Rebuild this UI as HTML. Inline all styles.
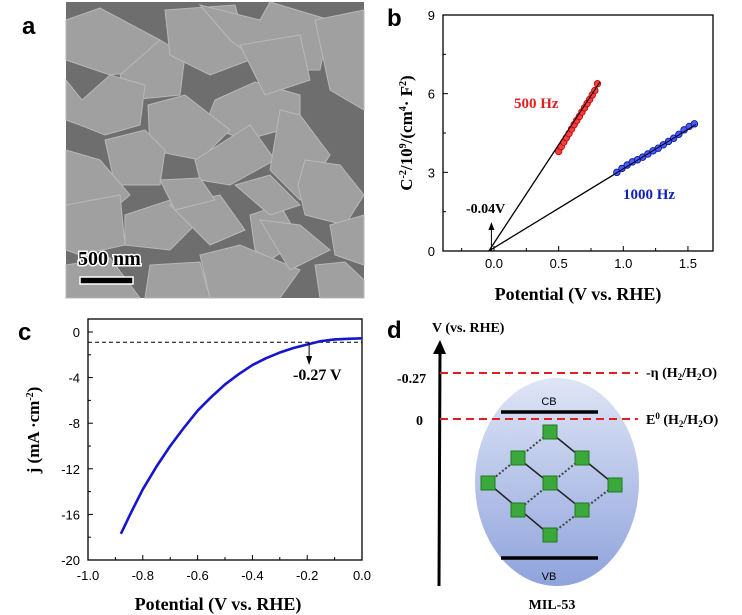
<!DOCTYPE html>
<html><head><meta charset="utf-8"><style>
html,body{margin:0;padding:0;background:#fff;}
svg{display:block;font-family:"Liberation Serif",serif;}
.sans{font-family:"Liberation Sans",sans-serif;}
</style></head><body>
<svg id="fig" width="742" height="615" viewBox="0 0 742 615" xmlns="http://www.w3.org/2000/svg">
<!-- Panel a -->
<g>
<text x="22" y="34" class="sans" font-size="24" font-weight="bold">a</text>
<rect x="66" y="2" width="298" height="296" fill="#6e6e6e"/>
<g fill="#a0a0a0" stroke="#b8b8b8" stroke-width="1">
<polygon points="66,20 100,8 160,40 150,70 110,75 66,60"/>
<polygon points="160,40 185,55 180,95 130,100 120,75"/>
<polygon points="165,10 235,5 250,60 210,75 170,55"/>
<polygon points="200,5 260,20 270,2 330,20 320,70 270,70 230,40"/>
<polygon points="315,20 364,10 364,110 330,90"/>
<polygon points="66,80 82,100 110,75 145,85 140,125 105,135 80,125 66,120"/>
<polygon points="215,100 255,82 300,95 300,125 245,140 205,125"/>
<polygon points="148,105 185,95 230,130 200,160 150,150"/>
<polygon points="195,160 250,125 275,160 230,185 200,180"/>
<polygon points="105,140 145,130 165,150 160,185 115,185"/>
<polygon points="280,110 300,115 330,155 300,200 270,170"/>
<polygon points="305,160 340,165 364,195 345,225 305,215 298,185"/>
<polygon points="66,150 100,160 130,195 100,220 66,215"/>
<polygon points="66,205 120,195 125,245 80,255 66,250"/>
<polygon points="125,215 170,200 200,220 170,250 125,245"/>
<polygon points="170,205 220,195 245,230 210,245"/>
<polygon points="250,215 280,205 300,240 270,260 255,250"/>
<polygon points="200,255 240,245 300,270 280,298 210,298"/>
<polygon points="150,265 200,262 210,298 145,298"/>
<polygon points="315,265 345,262 364,280 364,298 320,298"/>
<polygon points="260,220 300,225 330,250 290,270"/>
<polygon points="330,225 364,215 364,265 335,255"/>
<polygon points="66,265 110,258 140,298 66,298"/>
<polygon points="235,185 270,175 300,205 270,215"/>
<polygon points="160,180 200,178 215,200 175,210"/>
<polygon points="240,45 300,35 310,80 265,95"/>
</g>
<text x="78" y="265" font-size="20" font-weight="bold" fill="#000" stroke="#fff" stroke-width="3" paint-order="stroke">500 nm</text>
<rect x="80" y="277" width="53" height="7" fill="#000" stroke="#fff" stroke-width="1.5"/>
</g>

<!-- Panel b -->
<g id="panelB">
<text x="387" y="26" class="sans" font-size="24" font-weight="bold">b</text>
</g>
<!-- Panel c -->
<g id="panelC">
<text x="18" y="340" class="sans" font-size="24" font-weight="bold">c</text>
</g>
<!-- Panel d -->
<g>
<defs>
<linearGradient id="eg" x1="0" y1="0" x2="0" y2="1"><stop offset="0" stop-color="#dfe5f6"/><stop offset="1" stop-color="#8fa3dc"/></linearGradient>
</defs>
<text x="387" y="338" class="sans" font-size="24" font-weight="bold">d</text>
<text x="432" y="332" font-size="14" font-weight="bold">V (vs. RHE)</text>
<line x1="439" y1="586" x2="440" y2="348" stroke="#000" stroke-width="3"/>
<polygon points="440,340 433,354 446,354" fill="#000"/>
<ellipse cx="557" cy="482" rx="82" ry="104" fill="url(#eg)"/>
<line x1="440" y1="373" x2="638" y2="373" stroke="#e02020" stroke-width="2" stroke-dasharray="8,5"/>
<line x1="440" y1="419" x2="638" y2="419" stroke="#e02020" stroke-width="2" stroke-dasharray="8,5"/>
<text x="397" y="383" font-size="14" font-weight="bold">-0.27</text>
<text x="416" y="425" font-size="14" font-weight="bold">0</text>
<text x="646" y="377" font-size="14" font-weight="bold">-η (H<tspan font-size="9" dy="3">2</tspan><tspan dy="-3">/H</tspan><tspan font-size="9" dy="3">2</tspan><tspan dy="-3">O)</tspan></text>
<text x="646" y="424" font-size="14" font-weight="bold">E<tspan font-size="9" dy="-5">0</tspan><tspan dy="5"> (H</tspan><tspan font-size="9" dy="3">2</tspan><tspan dy="-3">/H</tspan><tspan font-size="9" dy="3">2</tspan><tspan dy="-3">O)</tspan></text>
<line x1="501" y1="412" x2="598" y2="412" stroke="#000" stroke-width="3.5"/>
<line x1="501" y1="558" x2="598" y2="558" stroke="#000" stroke-width="3.5"/>
<text x="549" y="405" class="sans" font-size="11" text-anchor="middle">CB</text>
<text x="549" y="580" class="sans" font-size="11" text-anchor="middle">VB</text>
<g stroke="#222" stroke-width="1.5">
<line x1="550" y1="432" x2="615" y2="485"/><line x1="518" y1="458" x2="583" y2="510"/><line x1="488" y1="483" x2="550" y2="535"/>
</g>
<g stroke="#444" stroke-width="2" stroke-dasharray="2,2">
<line x1="550" y1="432" x2="488" y2="483"/><line x1="582" y1="458" x2="518" y2="510"/><line x1="615" y1="485" x2="550" y2="535"/>
</g>
<g fill="#3aa83a" stroke="#1f7a1f">
<rect x="543" y="425" width="14" height="14"/><rect x="511" y="451" width="14" height="14"/><rect x="575" y="451" width="14" height="14"/>
<rect x="481" y="476" width="14" height="14"/><rect x="543" y="476" width="14" height="14"/><rect x="608" y="478" width="14" height="14"/>
<rect x="511" y="503" width="14" height="14"/><rect x="575" y="503" width="14" height="14"/><rect x="543" y="528" width="14" height="14"/>
</g>
<text x="552" y="609" font-size="14" font-weight="bold" text-anchor="middle">MIL-53</text>
</g>
</svg>
<script>
const NS="http://www.w3.org/2000/svg";
// Panel b data
const bXTicks=[0.0,0.5,1.0,1.5];
const bYTicks=[0,3,6,9];
const b500X=[0.50,0.52,0.54,0.56,0.58,0.60,0.62,0.64,0.66,0.68,0.70,0.72,0.74,0.76,0.78,0.80];
const b500Y=[3.80,3.98,4.15,4.32,4.48,4.65,4.82,4.98,5.13,5.30,5.46,5.62,5.78,5.95,6.12,6.38];
const b1000X=[0.95,0.99,1.03,1.07,1.11,1.15,1.19,1.23,1.27,1.31,1.35,1.39,1.43,1.47,1.51,1.55];
const b1000Y=[3.00,3.15,3.28,3.40,3.48,3.58,3.70,3.82,3.92,4.05,4.18,4.30,4.45,4.62,4.75,4.85];
const bFit500=[[-0.04,0],[0.82,6.45]];
const bFit1000=[[-0.04,0],[1.56,4.82]];
// Panel c data
const cXTicks=[-1.0,-0.8,-0.6,-0.4,-0.2,0.0];
const cYTicks=[0,-4,-8,-12,-16,-20];
const cX=[-0.88,-0.84,-0.80,-0.75,-0.70,-0.65,-0.60,-0.55,-0.50,-0.45,-0.40,-0.35,-0.30,-0.25,-0.20,-0.15,-0.10,-0.05,0.0];
const cY=[-17.7,-15.7,-13.8,-11.8,-10.0,-8.4,-6.9,-5.7,-4.6,-3.7,-2.9,-2.3,-1.8,-1.4,-1.1,-0.8,-0.65,-0.6,-0.55];
const cThresh=-0.9;

function el(tag,attrs,parent){const e=document.createElementNS(NS,tag);for(const k in attrs)e.setAttribute(k,attrs[k]);parent.appendChild(e);return e;}
function txt(s,attrs,parent){const e=el('text',attrs,parent);e.textContent=s;return e;}

// ---------- Panel b ----------
(function(){
const g=document.getElementById('panelB');
const L=443,R=713,T=15,B=251;
const xs=v=>494+(v-0)*129.3, ys=v=>B-(v/9)*(B-T);
const box=el('rect',{x:L,y:T,width:R-L,height:B-T,fill:'none',stroke:'#000','stroke-width':1.3},g);


for(let v=-0.25;v<=1.76;v+=0.25){const x=xs(v);if(x<L||x>R)continue;el('line',{x1:x,y1:B,x2:x,y2:B-(Math.abs(v*2-Math.round(v*2))<1e-6?5:3),stroke:'#000'},g);}
bXTicks.forEach(v=>{const t=txt(v.toFixed(1),{x:xs(v),y:B+17,'font-size':13,'text-anchor':'middle',class:'sans'},g);

});
for(let v=1.5;v<9;v+=1.5){el('line',{x1:L,y1:ys(v),x2:L+(v%3===0?5:3),y2:ys(v),stroke:'#000'},g);}
bYTicks.forEach(v=>{const t=txt(String(v),{x:L-8,y:ys(v)+5,'font-size':13,'text-anchor':'end',class:'sans'},g);

});
const xt=txt('Potential (V vs. RHE)',{x:578,y:300,'font-size':18,'font-weight':'bold','text-anchor':'middle'},g);


const yt=el('text',{x:0,y:0,'font-size':17,'font-weight':'bold','text-anchor':'middle',transform:'translate(412,133) rotate(-90)'},g);
yt.innerHTML='C<tspan font-size="10" dy="-6">-2</tspan><tspan dy="6">/10</tspan><tspan font-size="10" dy="-6">9</tspan><tspan dy="6">/(cm</tspan><tspan font-size="10" dy="-6">4</tspan><tspan dy="6">· F</tspan><tspan font-size="10" dy="-6">2</tspan><tspan dy="6">)</tspan>';


[[bFit500,'b-fit-500'],[bFit1000,'b-fit-1000']].forEach(([f,n])=>{const l=el('line',{x1:xs(f[0][0]),y1:ys(f[0][1]),x2:xs(f[1][0]),y2:ys(f[1][1]),stroke:'#000','stroke-width':1.3},g);

});
b500X.forEach((x,i)=>{const c=el('circle',{cx:xs(x),cy:ys(b500Y[i]),r:3.3,fill:'#f04040',stroke:'#c00000','stroke-width':0.8},g);

});
b1000X.forEach((x,i)=>{const c=el('circle',{cx:xs(x),cy:ys(b1000Y[i]),r:3.3,fill:'#4a5cf0',stroke:'#0010a0','stroke-width':0.8},g);

});
[bFit500,bFit1000].forEach(f=>{el('line',{x1:xs(0.45),y1:ys(f[1][1]*(0.49)/(f[1][0]+0.04)),x2:xs(f[1][0]),y2:ys(f[1][1]),stroke:'#000','stroke-width':1},g);});
el('line',{x1:xs(-0.02),y1:ys(0),x2:xs(-0.02),y2:ys(0.85),stroke:'#000','stroke-width':1},g);
el('polygon',{points:`${xs(-0.02)},${ys(1.1)} ${xs(-0.02)-3},${ys(0.8)} ${xs(-0.02)+3},${ys(0.8)}`,fill:'#000'},g);
const a=txt('-0.04V',{x:466,y:213,'font-size':14,'font-weight':'bold'},g);


const l1=txt('500 Hz',{x:514,y:108,'font-size':15,'font-weight':'bold',fill:'#e02020'},g);


const l2=txt('1000 Hz',{x:623,y:199,'font-size':15,'font-weight':'bold',fill:'#1020c0'},g);


})();

// ---------- Panel c ----------
(function(){
const g=document.getElementById('panelC');
const L=88,R=362,T=319,B=560;
const xs=v=>R+v*(R-L), ys=v=>332+(-v)*(B-332)/20;
const box=el('rect',{x:L,y:T,width:R-L,height:B-T,fill:'none',stroke:'#000','stroke-width':1.3},g);


for(let i=1;i<10;i++){const x=xs(-1+i*0.1);el('line',{x1:x,y1:B,x2:x,y2:B-(i%2===0?5:3),stroke:'#000'},g);}
cXTicks.forEach(v=>{const t=txt(v.toFixed(1),{x:xs(v),y:B+20,'font-size':13,'text-anchor':'middle',class:'sans'},g);

});
for(let v=-2;v>-20;v-=2){el('line',{x1:L,y1:ys(v),x2:L+(v%4===0?5:3),y2:ys(v),stroke:'#000'},g);}
el('line',{x1:L,y1:ys(0),x2:L+5,y2:ys(0),stroke:'#000'},g);
cYTicks.forEach(v=>{const t=txt(String(v),{x:L-8,y:ys(v)+5,'font-size':13,'text-anchor':'end',class:'sans'},g);

});
const xt=txt('Potential (V vs. RHE)',{x:218,y:610,'font-size':18,'font-weight':'bold','text-anchor':'middle'},g);


const yt=el('text',{x:0,y:0,'font-size':17,'font-weight':'bold','text-anchor':'middle',transform:'translate(39,430) rotate(-90)'},g);
yt.innerHTML='j (mA ·cm<tspan font-size="10" dy="-6">-2</tspan><tspan dy="6">)</tspan>';


const d=el('line',{x1:L,y1:ys(cThresh),x2:R,y2:ys(cThresh),stroke:'#000','stroke-dasharray':'4,3','stroke-width':1},g);


const p=el('polyline',{points:cX.map((x,i)=>xs(x)+','+ys(cY[i])).join(' '),fill:'none',stroke:'#1515d0','stroke-width':2.6,'stroke-linejoin':'round'},g);


el('line',{x1:xs(-0.193),y1:ys(-0.9),x2:xs(-0.193),y2:ys(-2.2),stroke:'#000'},g);
el('polygon',{points:`${xs(-0.193)},${ys(-2.9)} ${xs(-0.193)-3},${ys(-2.1)} ${xs(-0.193)+3},${ys(-2.1)}`,fill:'#000'},g);
const a=txt('-0.27 V',{x:293,y:380,'font-size':16,'font-weight':'bold'},g);


})();
</script>
</body></html>
